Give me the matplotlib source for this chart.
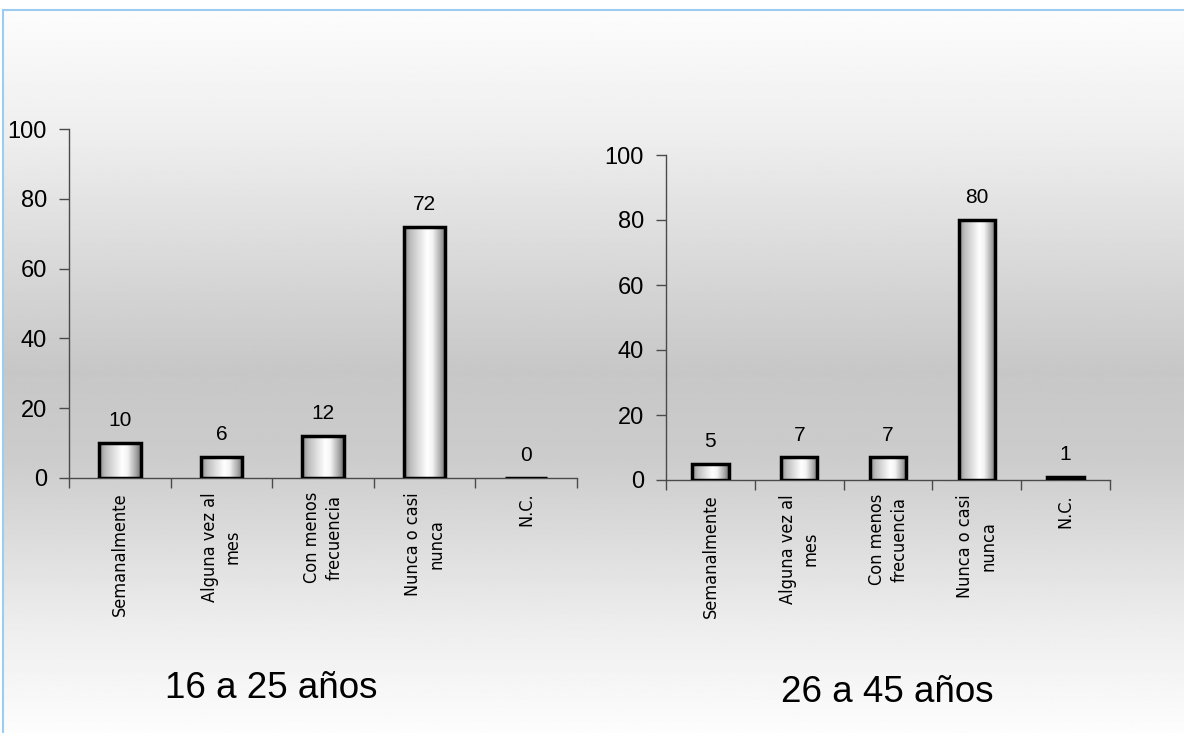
import numpy as np
import matplotlib
matplotlib.use("Agg")
import matplotlib.pyplot as plt
from matplotlib import font_manager
from matplotlib.colors import LinearSegmentedColormap
from matplotlib.lines import Line2D

# Data
categories = ["Semanalmente", "Alguna vez al\nmes", "Con menos\nfrecuencia",
              "Nunca o casi\nnunca", "N.C."]
values_16_25 = [10, 6, 12, 72, 0]
values_26_45 = [5, 7, 7, 80, 1]
titles = ["16 a 25 años", "26 a 45 años"]
yticks = [0, 20, 40, 60, 80, 100]

W, H = 1184, 733
fig = plt.figure(figsize=(W / 100, H / 100), dpi=100)
fig.patch.set_facecolor("white")

# Narrow face for the category labels, if one is installed
fonts = font_manager.fontManager.ttflist
if any(f.name == "Liberation Sans Narrow" for f in fonts):
    label_kw = dict(family="Liberation Sans Narrow", fontsize=15)
elif any(f.name == "DejaVu Sans" and f.stretch not in ("normal", 500) for f in fonts):
    label_kw = dict(family="DejaVu Sans", fontstretch="condensed", fontsize=13)
else:
    label_kw = dict(family="Liberation Sans", fontsize=12.5)

# Vertical grey backdrop inside the frame
bg = fig.add_axes([3 / W, 0, 1 - 3 / W, (H - 10) / H], zorder=-5)
bg.set_axis_off()
ys = np.linspace(0, 1, 400)  # 0 = top
stops_y = [0.0, 0.18, 0.50, 0.62, 0.85, 1.0]
stops_v = [0.99, 0.93, 0.78, 0.80, 0.93, 0.99]
col = np.interp(ys, stops_y, stops_v)
bg.imshow(np.repeat(col[:, None], 2, axis=1), cmap="gray", vmin=0, vmax=1,
          aspect="auto", extent=(0, 1, 0, 1), interpolation="bilinear")
bg.set_xlim(0, 1)
bg.set_ylim(0, 1)

# Frame lines (top and left)
fig.add_artist(Line2D([3 / W, 1], [(H - 10) / H] * 2, color="#9ecbf2", lw=1.5,
                      transform=fig.transFigure))
fig.add_artist(Line2D([3 / W] * 2, [0, (H - 10) / H], color="#9ecbf2", lw=1.5,
                      transform=fig.transFigure))

bar_cmap = LinearSegmentedColormap.from_list(
    "cyl", [(0.0, "#8c8c8c"), (0.15, "#bdbdbd"), (0.55, "#ffffff"),
            (0.68, "#f4f4f4"), (0.88, "#a8a8a8"), (1.0, "#6e6e6e")])
grad = np.linspace(0, 1, 256)[None, :]

num_font = ["Liberation Sans", "DejaVu Sans"]


def draw_panel(rect, values, title, title_xy):
    ax = fig.add_axes(rect)
    ax.set_facecolor("none")
    x = np.arange(len(values))
    width = 0.41
    bars = ax.bar(x, values, width=width, facecolor="none", edgecolor="black",
                  linewidth=2.5, zorder=3)
    for b, v in zip(bars, values):
        if v > 0:
            im = ax.imshow(grad, cmap=bar_cmap, aspect="auto",
                           extent=(b.get_x(), b.get_x() + b.get_width(), 0, v),
                           zorder=2, interpolation="bilinear")
            im.set_clip_path(b)
        ax.annotate(f"{v}", xy=(b.get_x() + b.get_width() / 2, v),
                    xytext=(0, 12), textcoords="offset points",
                    ha="center", va="baseline", fontsize=15, family=num_font)
    ax.set_xlim(-0.5, len(values) - 0.5)
    ax.set_ylim(0, 100)

    for s in ["top", "right"]:
        ax.spines[s].set_visible(False)
    for s in ["left", "bottom"]:
        ax.spines[s].set_color("#4a4a4a")
        ax.spines[s].set_linewidth(1.0)

    ax.set_yticks(yticks)
    ax.set_yticklabels([str(t) for t in yticks], fontsize=17, family=num_font)
    ax.tick_params(axis="y", direction="out", length=7, width=1.0,
                   color="#4a4a4a", pad=9)

    ax.set_xticks(np.arange(-0.5, len(values), 1.0))
    ax.set_xticklabels([])
    ax.tick_params(axis="x", which="major", direction="out", length=7,
                   width=1.0, color="#4a4a4a")
    ax.set_xticks(x, minor=True)
    ax.set_xticklabels(categories, minor=True, rotation=90,
                       multialignment="center", linespacing=1.35, **label_kw)
    ax.tick_params(axis="x", which="minor", length=0, pad=10)

    fig.text(title_xy[0], title_xy[1], title, ha="center", va="baseline",
             fontsize=26.5, family=num_font)
    return ax


draw_panel([69 / W, (H - 478) / H, (577 - 69) / W, (478 - 129) / H],
           values_16_25, titles[0], (271 / W, (H - 698) / H))
draw_panel([666 / W, (H - 480) / H, (1110 - 666) / W, (480 - 155) / H],
           values_26_45, titles[1], (887 / W, (H - 702) / H))

fig.savefig("out.png", dpi=100)
